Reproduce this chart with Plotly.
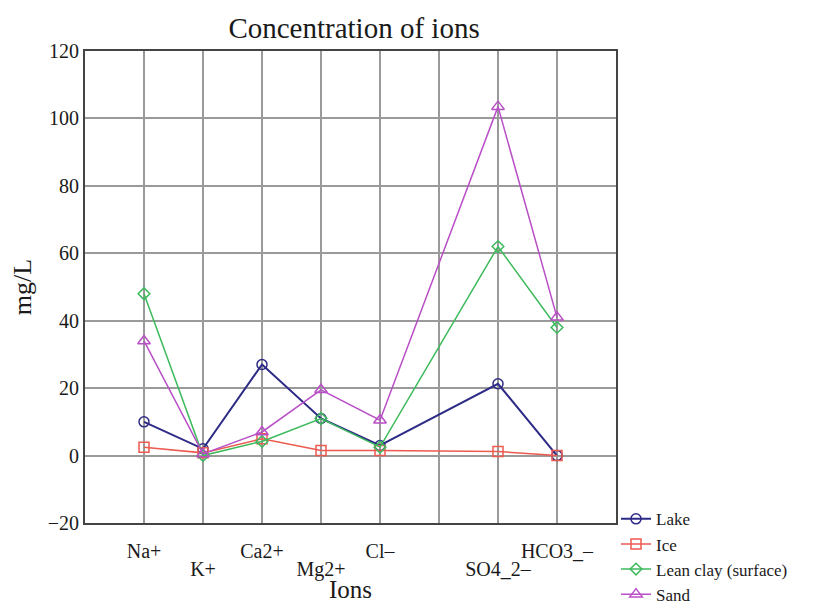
import plotly.graph_objects as go

ions = ["Na+", "K+", "Ca2+", "Mg2+", "Cl–", "SO4_2–", "HCO3_–"]
ion_pos = [1, 2, 3, 4, 5, 7, 8]
lake = [10, 2, 27, 11, 3, 21.3, 0]
ice = [2.5, 0.8, 5, 1.5, 1.5, 1.2, 0]
lean_clay = [48, 0, 4.2, 11, 2.5, 62, 38]
sand = [34, 0.5, 7, 19.5, 10.5, 103.5, 41]

grid_vals = [1, 2, 3, 4, 5, 6, 7, 8]
# upper-row and lower-row tick labels (alternating, as in the original)
upper_pos = [1, 3, 5, 8]
upper_text = ["Na+", "Ca2+", "Cl–", "HCO3_–"]
lower_pos = [2, 4, 7]
lower_text = ["K+", "Mg2+", "SO4_2–"]

FONT = "Liberation Serif"
INK = "#1a1a1a"

series = [
    ("Lake", lake, "#2e2b86", "circle-open", 10, 2),
    ("Ice", ice, "#ec5a50", "square-open", 10, 1.5),
    ("Lean clay (surface)", lean_clay, "#3dba5c", "diamond-open", 9, 1.5),
    ("Sand", sand, "#b94fc6", "triangle-up-open", 11, 1.5),
]

fig = go.Figure()
for name, vals, color, sym, size, lw in series:
    fig.add_trace(go.Scatter(
        x=ion_pos, y=vals, name=name, mode="lines+markers",
        line=dict(color=color, width=lw),
        marker=dict(symbol=sym, size=size, color=color, line=dict(color=color, width=1.5)),
    ))

fig.update_layout(
    width=833, height=605,
    margin=dict(l=77, r=225, t=43, b=90, autoexpand=False),
    paper_bgcolor="white", plot_bgcolor="white",
    font=dict(family=FONT, size=20, color=INK),
    title=dict(text="Concentration of ions", x=0.4154, xref="container", xanchor="center",
               y=0.967, yref="container", yanchor="middle",
               font=dict(family=FONT, size=29, color=INK)),
    showlegend=True,
    legend=dict(x=1.0, xanchor="left", y=0.046, yanchor="top",
                font=dict(family=FONT, size=17, color=INK),
                bgcolor="rgba(0,0,0,0)", itemwidth=30, tracegroupgap=0,
                borderwidth=0),
    xaxis=dict(
        range=[0, 9], tickmode="array", tickvals=upper_pos, ticktext=upper_text,
        tickangle=0, automargin=False, ticklabelstandoff=9,
        showgrid=False, zeroline=False,
        showline=True, linecolor="#444", linewidth=2, mirror=True, ticks="",
        tickfont=dict(family=FONT, size=20, color=INK),
        title=dict(text="Ions", font=dict(family=FONT, size=25, color=INK), standoff=19),
    ),
    xaxis2=dict(
        overlaying="x", matches="x", anchor="y", side="bottom",
        range=[0, 9], tickmode="array", tickvals=grid_vals,
        ticktext=[lower_text[lower_pos.index(v)] if v in lower_pos else "" for v in grid_vals],
        tickangle=0, automargin=False, ticklabelstandoff=32,
        showgrid=True, gridcolor="#9a9a9a", gridwidth=1.5, zeroline=False,
        showline=False, ticks="",
        tickfont=dict(family=FONT, size=20, color=INK),
    ),
    yaxis=dict(
        range=[-20, 120], dtick=20, tick0=0, automargin=False,
        showgrid=True, gridcolor="#9a9a9a", gridwidth=1.5, zeroline=False,
        showline=True, linecolor="#444", linewidth=2, mirror=True, ticks="",
        tickfont=dict(family=FONT, size=20, color=INK),
        title=dict(text="mg/L", font=dict(family=FONT, size=26, color=INK), standoff=19),
    ),
)
# invisible carrier so the second (lower-label) axis is drawn
fig.add_trace(go.Scatter(x=ion_pos, y=lake, xaxis="x2", mode="markers",
                         marker=dict(opacity=0), showlegend=False, hoverinfo="skip"))
fig.write_html("out.html")
